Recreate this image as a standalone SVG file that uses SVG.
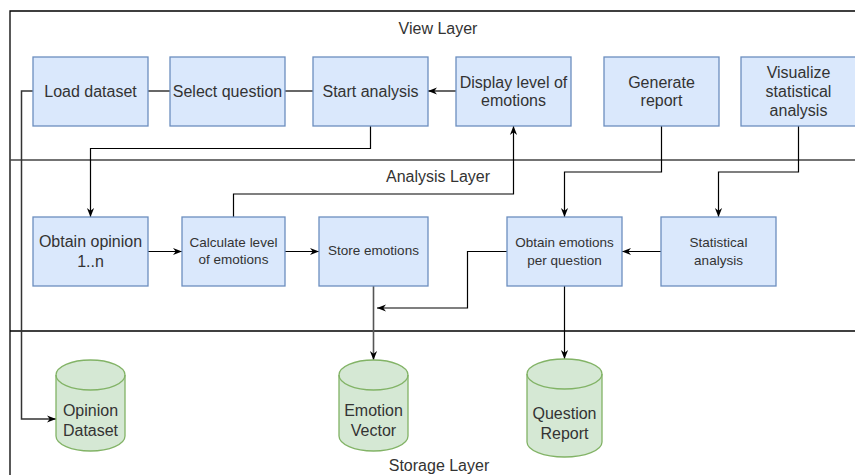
<svg xmlns="http://www.w3.org/2000/svg" width="855" height="475" viewBox="0 0 855 475">
<style>
text{font-family:"Liberation Sans",Arial,sans-serif;fill:#333;text-anchor:middle}
.t16{font-size:16px}
.t13{font-size:13.5px}
.box{fill:#dae8fc;stroke:#6c8ebf;stroke-width:1.3}
.cyl{fill:#d5e8d4;stroke:#82b366;stroke-width:1.3}
.cap{fill:none;stroke:#82b366;stroke-width:1.3}
.frame{fill:none;stroke:#000;stroke-width:1.3}
.c{fill:none;stroke:#000;stroke-width:1.2}
.ca{fill:none;stroke:#000;stroke-width:1.2;marker-end:url(#arr)}
</style>
<defs>
<marker id="arr" viewBox="0 0 10 10" refX="10" refY="5" markerWidth="9" markerHeight="9" markerUnits="userSpaceOnUse" orient="auto">
<path d="M0,1 L10,5 L0,9 L3,5 z" fill="#000"/>
</marker>
</defs>
<rect width="855" height="475" fill="#fff"/>
<g id="layers">
<path class="frame" d="M10,475 L10,11 L855,11"/>
<path d="M10,160 L855,160" stroke="#444" stroke-width="1.6" fill="none"/>
<path class="frame" d="M10,331 L855,331"/>
<text class="t16" x="438" y="34">View Layer</text>
<text class="t16" x="438" y="182">Analysis Layer</text>
<text class="t16" x="439" y="471">Storage Layer</text>
</g>
<g id="connectors">
<path d="M33,91 L21.5,91 L21.5,419 L56,419" fill="none" stroke="#333" stroke-width="1.5" marker-end="url(#arr)"/>
<path class="c" d="M148,91 L170,91"/>
<path class="c" d="M285,91 L313,91"/>
<path class="ca" d="M456,91 L428,91"/>
<path class="ca" d="M370.5,126 L370.5,148.5 L90.5,148.5 L90.5,217"/>
<path class="ca" d="M148,251.5 L182,251.5"/>
<path class="ca" d="M285,251.5 L319,251.5"/>
<path class="ca" d="M233.5,217 L233.5,194 L513.5,194 L513.5,126"/>
<path class="ca" d="M661.5,126 L661.5,172 L564.5,172 L564.5,217"/>
<path class="ca" d="M798.5,126 L798.5,172 L718.5,172 L718.5,217"/>
<path class="ca" d="M661,251.5 L622,251.5"/>
<path class="ca" d="M507,251.5 L467.5,251.5 L467.5,308 L377,308"/>
<path d="M373.5,286 L373.5,360" fill="none" stroke="#555" stroke-width="1.6" marker-end="url(#arr)"/>
<path class="ca" d="M564.5,286 L564.5,359"/>
</g>
<g id="load-dataset">
<rect class="box" x="33" y="57" width="115" height="69"/>
<text class="t16" x="90.5" y="97">Load dataset</text>
</g>
<g id="select-question">
<rect class="box" x="170" y="57" width="115" height="69"/>
<text class="t16" x="227.5" y="97">Select question</text>
</g>
<g id="start-analysis">
<rect class="box" x="313" y="57" width="115" height="69"/>
<text class="t16" x="370.5" y="97">Start analysis</text>
</g>
<g id="display-level">
<rect class="box" x="456" y="57" width="115" height="69"/>
<text class="t16" x="513.5" y="87.5">Display level of</text>
<text class="t16" x="513.5" y="106">emotions</text>
</g>
<g id="generate-report">
<rect class="box" x="604" y="57" width="115" height="69"/>
<text class="t16" x="661.5" y="87.5">Generate</text>
<text class="t16" x="661.5" y="106">report</text>
</g>
<g id="visualize">
<rect class="box" x="741" y="57" width="115" height="69"/>
<text class="t16" x="798.5" y="77.5">Visualize</text>
<text class="t16" x="798.5" y="96.5">statistical</text>
<text class="t16" x="798.5" y="115.5">analysis</text>
</g>
<g id="obtain-opinion">
<rect class="box" x="33" y="217" width="115" height="69"/>
<text class="t16" x="90.5" y="247">Obtain opinion</text>
<text class="t16" x="90.5" y="267">1..n</text>
</g>
<g id="calculate-level">
<rect class="box" x="182" y="217" width="103" height="69"/>
<text class="t13" x="233.5" y="246.5">Calculate level</text>
<text class="t13" x="233.5" y="264">of emotions</text>
</g>
<g id="store-emotions">
<rect class="box" x="319" y="217" width="109" height="69"/>
<text class="t13" x="373.5" y="255">Store emotions</text>
</g>
<g id="obtain-emotions">
<rect class="box" x="507" y="217" width="115" height="69"/>
<text class="t13" x="564.5" y="247">Obtain emotions</text>
<text class="t13" x="564.5" y="264.5">per question</text>
</g>
<g id="statistical-analysis">
<rect class="box" x="661" y="217" width="115" height="69"/>
<text class="t13" x="718.5" y="247">Statistical</text>
<text class="t13" x="718.5" y="264.5">analysis</text>
</g>
<g id="opinion-dataset">
<path class="cyl" d="M56,375 A34.5,15 0 0 1 125,375 L125,436 A34.5,15 0 0 1 56,436 Z"/>
<path class="cap" d="M56,375 A34.5,15 0 0 0 125,375"/>
<text class="t16" x="90.5" y="416">Opinion</text>
<text class="t16" x="90.5" y="435.5">Dataset</text>
</g>
<g id="emotion-vector">
<path class="cyl" d="M339,375 A34.5,15 0 0 1 408,375 L408,436 A34.5,15 0 0 1 339,436 Z"/>
<path class="cap" d="M339,375 A34.5,15 0 0 0 408,375"/>
<text class="t16" x="373.5" y="416">Emotion</text>
<text class="t16" x="373.5" y="435.5">Vector</text>
</g>
<g id="question-report">
<path class="cyl" d="M527,374 A37.5,15 0 0 1 602,374 L602,442 A37.5,15 0 0 1 527,442 Z"/>
<path class="cap" d="M527,374 A37.5,15 0 0 0 602,374"/>
<text class="t16" x="564.5" y="419">Question</text>
<text class="t16" x="564.5" y="438.5">Report</text>
</g>
</svg>
